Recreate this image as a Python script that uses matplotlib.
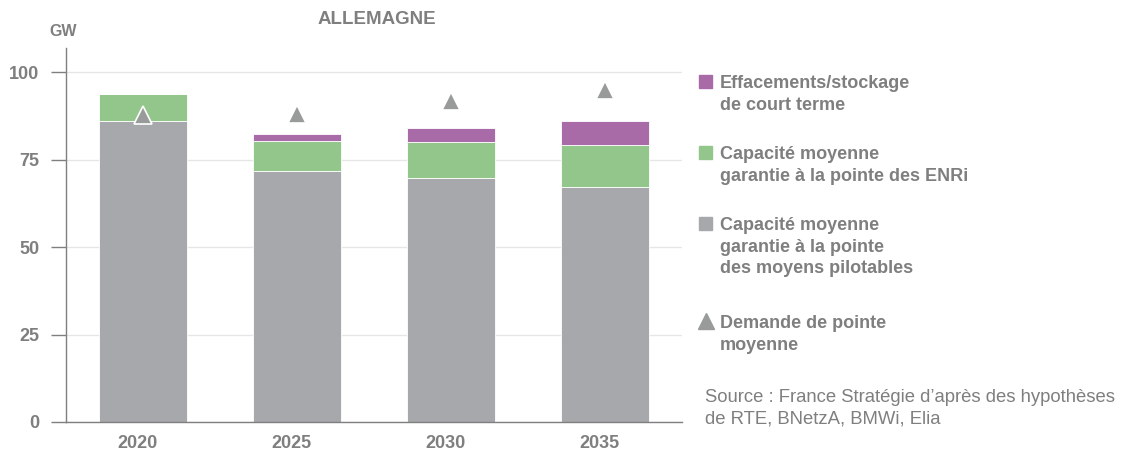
import matplotlib
matplotlib.use("Agg")
import matplotlib.pyplot as plt
import matplotlib.transforms as mtransforms
from matplotlib.patches import Rectangle
from matplotlib.lines import Line2D
import numpy as np

plt.rcParams['font.family'] = ['Liberation Sans', 'DejaVu Sans']

# Data (GW)
years = ['2020', '2025', '2030', '2035']
pilotables = [86.2, 71.8, 69.8, 67.2]
enri = [7.5, 8.5, 10.2, 12.1]
effacements = [0.0, 2.2, 4.0, 6.9]
demande = [87.7, 88.1, 91.9, 94.9]
yticks = [0, 25, 50, 75, 100]

legend_labels = ['Effacements/stockage\nde court terme',
                 'Capacité moyenne\ngarantie à la pointe des ENRi',
                 'Capacité moyenne\ngarantie à la pointe\ndes moyens pilotables',
                 'Demande de pointe\nmoyenne']
source = 'Source : France Stratégie d\u2019après des hypothèses\nde RTE, BNetzA, BMWi, Elia'

c_gray = '#a7a8ab'
c_green = '#93c68a'
c_purple = '#a86ba7'
c_tri = '#999b9b'
c_text = '#7f7f7f'

W, H = 1128, 450
fig = plt.figure(figsize=(W / 100, H / 100), dpi=100)
ax = fig.add_axes([66 / W, 28 / H, 616 / W, 374 / H])

x = np.arange(len(years))
w = 0.571
ax.bar(x, pilotables, w, color=c_gray, edgecolor='white', linewidth=0.6, zorder=2)
ax.bar(x, enri, w, bottom=pilotables, color=c_green, edgecolor='white', linewidth=0.6, zorder=2)
bot = np.array(pilotables) + np.array(enri)
ax.bar(x, effacements, w, bottom=bot, color=c_purple, edgecolor='white', linewidth=0.6, zorder=2)
ax.plot(x, demande, '^', ls='none', color=c_tri, ms=13, mec='white', mew=1.2, zorder=3)

ax.set_xlim(-0.5, 3.5)
ax.set_ylim(0, 107)
ax.set_yticks(yticks)
ax.set_xticks(x)
ax.set_xticklabels(years)
ax.tick_params(axis='x', length=0, pad=9, labelsize=13, labelcolor=c_text)
ax.tick_params(axis='y', length=11, width=1, color=c_text, pad=8, labelsize=13, labelcolor=c_text)
shift = mtransforms.ScaledTranslation(-6 / 100, 0, fig.dpi_scale_trans)
for lab in ax.get_xticklabels():
    lab.set_fontweight('bold')
    lab.set_transform(lab.get_transform() + shift)
for lab in ax.get_yticklabels():
    lab.set_fontweight('bold')
ax.grid(axis='y', color='#e6e6e6', lw=1, zorder=0)
ax.set_axisbelow(True)
for s in ['top', 'right']:
    ax.spines[s].set_visible(False)
for s in ['left', 'bottom']:
    ax.spines[s].set_color(c_text)
    ax.spines[s].set_linewidth(1)

fig.text(49 / W, 1 - 31.5 / H, 'GW', fontsize=11.5, fontweight='bold', color=c_text, va='center')
fig.text(376.5 / W, 1 - 20 / H, 'ALLEMAGNE', fontsize=13.5, fontweight='bold', color=c_text,
         va='center', ha='center')

# hand-placed legend, one text per line
colors = [c_purple, c_green, c_gray]
baselines = [88, 159, 230, 328]
step = 21.7
for i, lab in enumerate(legend_labels):
    for k, line in enumerate(lab.split('\n')):
        fig.text(720 / W, 1 - (baselines[i] + k * step) / H, line, fontsize=13,
                 fontweight='bold', color=c_text, va='baseline', ha='left')
    yb = 1 - baselines[i] / H
    if i < 3:
        fig.patches.append(Rectangle((699 / W, yb), 13 / W, 13 / H,
                                     transform=fig.transFigure, color=colors[i]))
    else:
        fig.lines.append(Line2D([705.5 / W], [yb + 7 / H], marker='^', color=c_tri,
                                ms=11, ls='none', transform=fig.transFigure))

for k, line in enumerate(source.split('\n')):
    fig.text(705 / W, 1 - (401.5 + k * 21.5) / H, line, fontsize=13.3, color=c_text,
             va='baseline', ha='left')

fig.savefig('out.png', dpi=100)
